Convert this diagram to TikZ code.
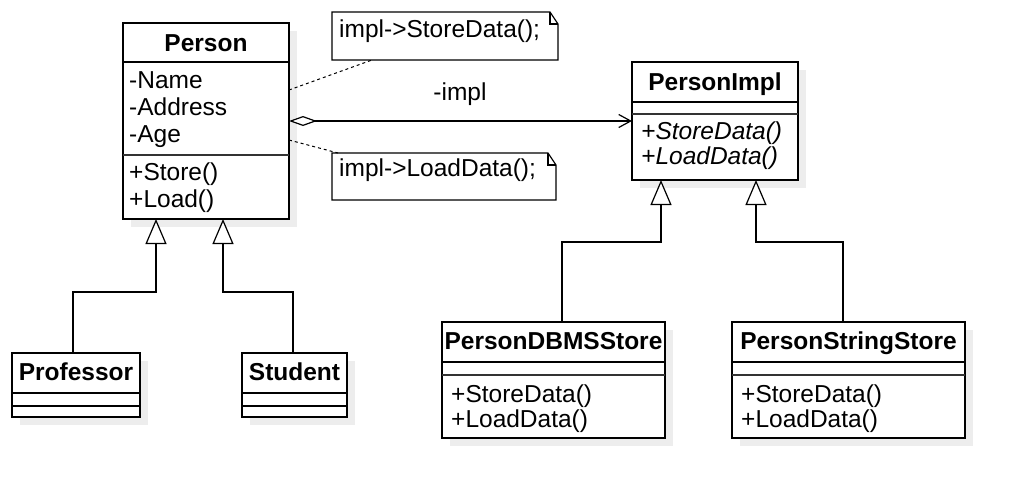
\documentclass[tikz,border=0pt]{standalone}
\usepackage{fontspec}
\setmainfont{Liberation Sans}
\usetikzlibrary{arrows.meta,shadows,calc}
\begin{document}
\begin{tikzpicture}[x=1pt,y=-1pt,
  every node/.style={font=\fontsize{24.5}{29}\selectfont},
  cls/.style={draw=black, line width=1.2pt, fill=white, inner sep=0pt, outer sep=0pt,
    anchor=north west,
    drop shadow={shadow xshift=8pt, shadow yshift=-8pt, fill=black!7, opacity=1}},
  div/.style={line width=1.2pt},
  div2/.style={line width=1.7pt, black!80},
  ttl/.style={anchor=base, inner sep=0pt, font=\fontsize{24.5}{29}\selectfont\bfseries},
  mem/.style={anchor=base west, inner sep=0pt},
  imem/.style={anchor=base west, inner sep=0pt, font=\fontsize{24.5}{29}\selectfont\itshape},
  notebox/.style={inner sep=0pt, outer sep=0pt, anchor=north west},
  noteline/.style={draw=black, line width=1.2pt, fill=white, line join=miter},
  gen/.style={line width=1.2pt, -{Triangle[open, length=25pt, width=21pt, fill=white]}},
  agg/.style={line width=1.2pt, {Diamond[open, length=28pt, width=10pt, fill=white]}-{Straight Barb[length=12pt, width=13pt]}},
  dsh/.style={line width=1pt, dash pattern=on 3pt off 3pt}
]
\useasboundingbox (0,0) rectangle (1013,488);

% class boxes
\node[cls, minimum width=166pt, minimum height=196pt] (person) at (123,23) {};
\node[cls, minimum width=166pt, minimum height=118pt] (impl) at (632,62) {};
\node[cls, minimum width=223pt, minimum height=116pt] (dbms) at (442,322) {};
\node[cls, minimum width=233pt, minimum height=116pt] (strs) at (732,322) {};
\node[cls, minimum width=128pt, minimum height=64pt] (prof) at (12,353) {};
\node[cls, minimum width=105pt, minimum height=64pt] (stud) at (242,353) {};

% dividers
\draw[div] (123,62) -- (289,62);
\draw[div2] (123,155) -- (289,155);
\draw[div] (632,102) -- (798,102);
\draw[div2] (632,114) -- (798,114);
\draw[div] (442,362) -- (665,362);
\draw[div2] (442,375) -- (665,375);
\draw[div] (732,362) -- (965,362);
\draw[div2] (732,375) -- (965,375);
\draw[div] (12,393) -- (140,393);
\draw[div] (12,406) -- (140,406);
\draw[div] (242,393) -- (347,393);
\draw[div] (242,406) -- (347,406);

% texts
\node[ttl] (personT) at (206,51) {Person};
\node[mem] (pa1) at (129,88) {-Name};
\node[mem] (pa2) at (129,115) {-Address};
\node[mem] (pa3) at (129,142) {-Age};
\node[mem] (pm1) at (129,180) {+Store()};
\node[mem] (pm2) at (129,207) {+Load()};

\node[ttl] (implT) at (715,90) {PersonImpl};
\node[imem] (im1) at (641,139) {+StoreData()};
\node[imem] (im2) at (641,164) {+LoadData()};

\node[ttl] (dbmsT) at (553.5,349) {PersonDBMSStore};
\node[mem] (dm1) at (451,402) {+StoreData()};
\node[mem] (dm2) at (451,427) {+LoadData()};

\node[ttl] (strsT) at (848.5,349) {PersonStringStore};
\node[mem] (sm1) at (741,402) {+StoreData()};
\node[mem] (sm2) at (741,427) {+LoadData()};

\node[ttl] (profT) at (76,380) {Professor};
\node[ttl] (studT) at (294.5,380) {Student};

% notes
\node[notebox, minimum width=226pt, minimum height=48pt] (n1) at (332,12) {};
\draw[noteline] (n1.south west) -- (n1.north west) -- ($(n1.north east)+(-8,0)$) -- ($(n1.north east)+(0,12)$) -- (n1.south east) -- cycle;
\draw[line width=1.2pt] ($(n1.north east)+(-8,0)$) -- ($(n1.north east)+(-8,12)$) -- ($(n1.north east)+(0,12)$);
\node[mem] (n1T) at (339,37) {impl->StoreData();};

\node[notebox, minimum width=224pt, minimum height=47pt] (n2) at (332,153) {};
\draw[noteline] (n2.south west) -- (n2.north west) -- ($(n2.north east)+(-8,0)$) -- ($(n2.north east)+(0,12)$) -- (n2.south east) -- cycle;
\draw[line width=1.2pt] ($(n2.north east)+(-8,0)$) -- ($(n2.north east)+(-8,12)$) -- ($(n2.north east)+(0,12)$);
\node[mem] (n2T) at (339,176.5) {impl->LoadData();};

% note anchors
\draw[dsh] ($(person.north east)+(0,67)$) -- ($(n1.south west)+(40,0)$);
\draw[dsh] ($(person.north east)+(0,117)$) -- ($(n2.north west)+(6,0)$);

% aggregation
\draw[agg] (person.east) -- (impl.west);
\node[anchor=base, inner sep=0pt] (implL) at (460,100.5) {-impl};

% generalizations
\coordinate (e1) at (73,292);
\coordinate (e2) at (293,292);
\coordinate (e3) at (562,242);
\coordinate (e4) at (843,242);
\coordinate (g1) at (156,219);
\coordinate (g2) at (223,219);
\coordinate (g3) at (661,180);
\coordinate (g4) at (756,180);
\draw[gen] (prof.north -| e1) -- (e1) -| (g1);
\draw[gen] (stud.north -| e2) -- (e2) -| (g2);
\draw[gen] (dbms.north -| e3) -- (e3) -| (g3);
\draw[gen] (strs.north -| e4) -- (e4) -| (g4);
\end{tikzpicture}
\end{document}
